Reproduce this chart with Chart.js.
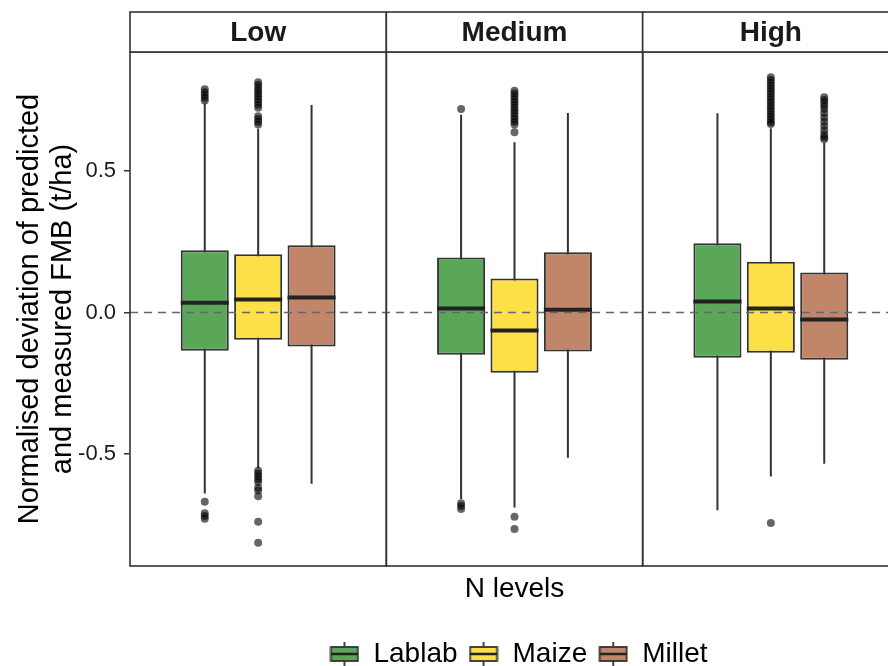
<!DOCTYPE html>
<html>
<head>
<meta charset="utf-8">
<script src="https://cdn.jsdelivr.net/npm/chart.js@4/dist/chart.umd.min.js"></script>
<style>
  html, body { margin: 0; padding: 0; background: #ffffff; overflow: hidden; }
  #wrap { width: 903px; height: 678px; position: relative; }
</style>
</head>
<body>
<div id="wrap"><canvas id="chart"></canvas></div>
<script>
// N levels (facets) and crops (boxes inside each facet)
const levels = ['Low', 'Medium', 'High'];
const crops = ['Lablab', 'Maize', 'Millet'];
const yTicks = [-0.5, 0.0, 0.5];

// Box statistics: one row per crop, one entry per N level
const whiskerLow = [
  [-0.640, -0.660, -0.700],
  [-0.550, -0.690, -0.580],
  [-0.606, -0.514, -0.535]
];
const q1Values = [
  [-0.135, -0.149, -0.160],
  [-0.096, -0.213, -0.142],
  [-0.120, -0.138, -0.167]
];
const medianValues = [
  [0.035, 0.014, 0.039],
  [0.046, -0.064, 0.014],
  [0.053, 0.010, -0.025]
];
const q3Values = [
  [0.220, 0.195, 0.245],
  [0.206, 0.120, 0.180],
  [0.238, 0.213, 0.142]
];
const whiskerHigh = [
  [0.740, 0.700, 0.705],
  [0.650, 0.603, 0.652],
  [0.734, 0.706, 0.600]
];

// Outlying observations per crop, per N level
const lablabOutliers = [
  [0.790, 0.780, 0.770, 0.760, 0.750, -0.670, -0.710, -0.720, -0.730],
  [0.720, -0.675, -0.685, -0.695],
  []
];
const maizeOutliers = [
  [0.815, 0.805, 0.795, 0.785, 0.775, 0.765, 0.755, 0.745, 0.735, 0.725,
   0.695, 0.685, 0.675, 0.665,
   -0.560, -0.570, -0.580, -0.590, -0.600, -0.620, -0.630, -0.650, -0.740, -0.815],
  [0.785, 0.775, 0.765, 0.755, 0.745, 0.735, 0.725, 0.715, 0.705, 0.695,
   0.685, 0.675, 0.665, 0.638, -0.723, -0.766],
  [0.833, 0.823, 0.813, 0.803, 0.793, 0.783, 0.773, 0.763, 0.753, 0.743,
   0.733, 0.723, 0.713, 0.703, 0.693, 0.683, 0.673, 0.667, -0.745]
];
const milletOutliers = [
  [],
  [],
  [0.762, 0.752, 0.742, 0.732, 0.720, 0.705, 0.690, 0.675, 0.660, 0.645,
   0.630, 0.620, 0.613]
];
const outliers = [lablabOutliers, maizeOutliers, milletOutliers];

const cropFill = ['#5aa75a', '#fddf47', '#c1856a'];
const ink = '#333333';

// facet layout on a continuous x axis: each facet spans 1.2 units,
// crops are dodged by 0.25 units around the facet centre
const PANEL = 1.2;
const DODGE = 0.25;
const xAt = (level, crop) => PANEL * level + PANEL / 2 + DODGE * (crop - 1);

const datasets = [];
crops.forEach((name, c) => {
  datasets.push({
    type: 'bar',
    label: name,
    data: levels.map((_, l) => ({ x: xAt(l, c), y: [q1Values[c][l], q3Values[c][l]] })),
    backgroundColor: cropFill[c],
    borderColor: ink,
    borderWidth: 2,
    borderSkipped: false,
    grouped: false,
    barPercentage: 0.9,
    categoryPercentage: 1.0,
    order: 2
  });
});
crops.forEach((name, c) => {
  const pts = [];
  outliers[c].forEach((vals, l) => vals.forEach(v => pts.push({ x: xAt(l, c), y: v })));
  datasets.push({
    type: 'scatter',
    label: name + ' outliers',
    data: pts,
    pointRadius: 4,
    pointBackgroundColor: 'rgba(0,0,0,0.6)',
    pointBorderWidth: 0,
    showLine: false,
    order: 1
  });
});

// whiskers under the boxes, medians, reference line, facet frames and strips on top
const boxParts = {
  id: 'boxParts',
  beforeDatasetsDraw(chart) {
    const { ctx, scales: { x, y } } = chart;
    ctx.save();
    ctx.strokeStyle = ink;
    ctx.lineWidth = 2;
    crops.forEach((_, c) => levels.forEach((__, l) => {
      const px = x.getPixelForValue(xAt(l, c));
      ctx.beginPath();
      ctx.moveTo(px, y.getPixelForValue(whiskerLow[c][l]));
      ctx.lineTo(px, y.getPixelForValue(whiskerHigh[c][l]));
      ctx.stroke();
    }));
    ctx.restore();
  },
  afterDatasetsDraw(chart) {
    const { ctx, chartArea, scales: { x, y } } = chart;
    ctx.save();
    crops.forEach((_, c) => {
      const meta = chart.getDatasetMeta(c);
      levels.forEach((__, l) => {
        const bar = meta.data[l];
        const half = bar.width / 2;
        const px = x.getPixelForValue(xAt(l, c));
        const py = y.getPixelForValue(medianValues[c][l]);
        ctx.strokeStyle = '#222222';
        ctx.lineWidth = 4;
        ctx.beginPath();
        ctx.moveTo(px - half, py);
        ctx.lineTo(px + half, py);
        ctx.stroke();
      });
    });
    // dashed zero line
    const y0 = y.getPixelForValue(0);
    ctx.setLineDash([8, 6]);
    ctx.strokeStyle = '#666666';
    ctx.lineWidth = 1.5;
    ctx.beginPath();
    ctx.moveTo(chartArea.left, y0);
    ctx.lineTo(chartArea.right, y0);
    ctx.stroke();
    ctx.setLineDash([]);
    // facet frames and strips
    const stripH = 40;
    levels.forEach((name, l) => {
      const x0 = x.getPixelForValue(PANEL * l);
      const x1 = x.getPixelForValue(PANEL * (l + 1));
      ctx.strokeStyle = ink;
      ctx.lineWidth = 1.6;
      ctx.strokeRect(x0, chartArea.top, x1 - x0, chartArea.bottom - chartArea.top);
      ctx.fillStyle = '#ffffff';
      ctx.fillRect(x0, chartArea.top - stripH, x1 - x0, stripH);
      ctx.strokeRect(x0, chartArea.top - stripH, x1 - x0, stripH);
      ctx.fillStyle = '#1a1a1a';
      ctx.font = 'bold 28px "Liberation Sans", Arial, sans-serif';
      ctx.textAlign = 'center';
      ctx.textBaseline = 'middle';
      ctx.fillText(name, (x0 + x1) / 2, chartArea.top - stripH / 2 + 1);
    });
    ctx.restore();
  },
  beforeDraw(chart) {
    // centre the legend under the facets
    if (chart.legend) {
      chart.legend.left = chart.chartArea.left + 4;
      chart.legend.right = chart.chartArea.right + 4;
    }
  }
};

// small boxplot glyph for legend entries
function legendGlyph(fill) {
  const cv = document.createElement('canvas');
  cv.width = 30; cv.height = 24;
  const g = cv.getContext('2d');
  g.strokeStyle = ink;
  g.lineWidth = 1.8;
  g.beginPath(); g.moveTo(15, 0); g.lineTo(15, 24); g.stroke();
  g.fillStyle = fill;
  g.fillRect(1.5, 5, 27, 14);
  g.strokeRect(1.5, 5, 27, 14);
  g.lineWidth = 2.5;
  g.strokeStyle = '#222222';
  g.beginPath(); g.moveTo(1.5, 12); g.lineTo(28.5, 12); g.stroke();
  return cv;
}

Chart.defaults.font.family = '"Liberation Sans", Arial, sans-serif';
Chart.defaults.color = '#000000';

new Chart(document.getElementById('chart'), {
  type: 'bar',
  data: { datasets },
  plugins: [boxParts],
  options: {
    responsive: true,
    maintainAspectRatio: false,
    animation: false,
    events: [],
    layout: { padding: { top: 52, left: 0, right: 0, bottom: 0 } },
    scales: {
      x: {
        type: 'linear',
        min: 0,
        max: PANEL * levels.length,
        offset: false,
        grid: { display: false, offset: false },
        border: { display: false },
        ticks: { display: false },
        title: {
          display: true,
          text: 'N levels',
          color: '#000000',
          font: { size: 28 },
          padding: { top: 0, bottom: 23 }
        },
        afterFit(scale) { scale.height = 63; }
      },
      y: {
        type: 'linear',
        min: -0.897,
        max: 0.922,
        afterBuildTicks(scale) { scale.ticks = yTicks.map(v => ({ value: v })); },
        ticks: {
          color: '#1a1a1a',
          font: { size: 22 },
          padding: 8,
          callback: v => v.toFixed(1)
        },
        grid: {
          drawOnChartArea: false,
          drawTicks: true,
          tickLength: 6,
          color: ink,
          lineWidth: 1.5
        },
        border: { display: false },
        title: {
          display: true,
          text: ['Normalised deviation of predicted', 'and measured FMB (t/ha)'],
          color: '#000000',
          font: { size: 29, lineHeight: 1.14 },
          padding: { top: 13, bottom: 0 }
        },
        afterFit(scale) { scale.width = 130; }
      }
    },
    plugins: {
      tooltip: { enabled: false },
      legend: {
        display: true,
        position: 'bottom',
        labels: {
          usePointStyle: true,
          pointStyleWidth: 30,
          padding: 11,
          color: '#000000',
          font: { size: 28 },
          generateLabels: () => crops.map((name, c) => ({
            text: name,
            pointStyle: legendGlyph(cropFill[c]),
            fillStyle: cropFill[c],
            strokeStyle: ink,
            lineWidth: 0,
            hidden: false,
            datasetIndex: c
          }))
        }
      }
    }
  }
});
</script>
</body>
</html>
